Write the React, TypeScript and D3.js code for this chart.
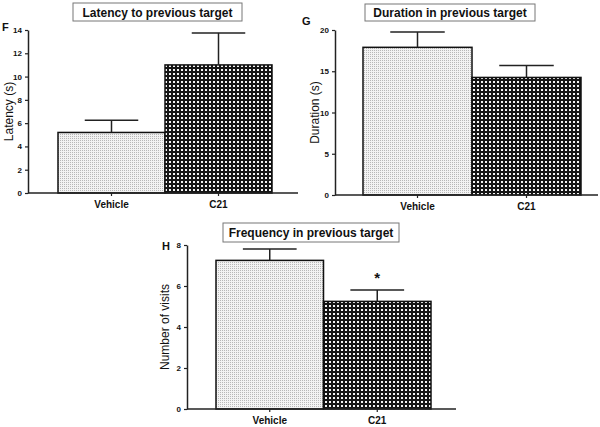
import React, { useRef, useEffect } from 'react';
import * as d3 from 'd3';

const groups = ['Vehicle', 'C21'];

const latencyMean = [5.2, 11.0];
const latencySem = [1.05, 2.75];
const latencyTicks = [0, 2, 4, 6, 8, 10, 12, 14];

const durationMean = [17.9, 14.25];
const durationSem = [1.85, 1.45];
const durationTicks = [0, 5, 10, 15, 20];

const visitsMean = [7.25, 5.25];
const visitsSem = [0.55, 0.55];
const visitsTicks = [0, 2, 4, 6, 8];

type PanelCfg = {
  letter: string;
  title: string;
  yLabel: string;
  means: number[];
  sems: number[];
  ticks: number[];
  axisX: number;
  axisEnd: number;
  barX: [number, number];
  yRange: [number, number];
  titleBox: [number, number, number, number];
  letterPos: [number, number];
  yLabelX: number;
  star?: boolean;
};

const panels: PanelCfg[] = [
  {
    letter: 'F', title: 'Latency to previous target', yLabel: 'Latency (s)',
    means: latencyMean, sems: latencySem, ticks: latencyTicks,
    axisX: 28, axisEnd: 298, barX: [58, 272], yRange: [193, 30],
    titleBox: [73, 3, 169, 18], letterPos: [2, 31], yLabelX: 13,
  },
  {
    letter: 'G', title: 'Duration in previous target', yLabel: 'Duration (s)',
    means: durationMean, sems: durationSem, ticks: durationTicks,
    axisX: 335, axisEnd: 598, barX: [363, 581], yRange: [195, 30],
    titleBox: [365, 4, 170, 17], letterPos: [302, 25], yLabelX: 319,
  },
  {
    letter: 'H', title: 'Frequency in previous target', yLabel: 'Number of visits',
    means: visitsMean, sems: visitsSem, ticks: visitsTicks,
    axisX: 187, axisEnd: 456, barX: [216, 431], yRange: [409, 245],
    titleBox: [223, 223, 176, 19], letterPos: [162, 250], yLabelX: 169, star: true,
  },
];

const App = () => {
  const svgRef = useRef<SVGSVGElement>(null);

  useEffect(() => {
    const svg = d3.select(svgRef.current);
    svg.selectAll('*').remove();
    svg.attr('width', 600).attr('height', 427);

    const font = 'Liberation Sans, Arial, sans-serif';

    // patterns
    const defs = svg.append('defs');
    const light = defs.append('pattern').attr('id', 'pat-light')
      .attr('patternUnits', 'userSpaceOnUse').attr('width', 2).attr('height', 2);
    light.append('rect').attr('width', 2).attr('height', 2).attr('fill', '#f3f3f3');
    light.append('rect').attr('width', 1).attr('height', 1).attr('fill', '#b8b8b8');

    const dark = defs.append('pattern').attr('id', 'pat-dark')
      .attr('patternUnits', 'userSpaceOnUse').attr('width', 4).attr('height', 4);
    dark.append('rect').attr('width', 4).attr('height', 4).attr('fill', '#151515');
    dark.append('rect').attr('x', 1).attr('y', 1).attr('width', 2).attr('height', 2).attr('fill', '#f4f4f4');

    const fills = ['url(#pat-light)', 'url(#pat-dark)'];

    panels.forEach(p => {
      const g = svg.append('g');
      const x = d3.scaleBand().domain(groups).range(p.barX).padding(0);
      const y = d3.scaleLinear()
        .domain([0, p.ticks[p.ticks.length - 1]])
        .range(p.yRange);

      // title box
      const [tx, ty, tw, th] = p.titleBox;
      g.append('rect').attr('x', tx).attr('y', ty).attr('width', tw).attr('height', th)
        .attr('fill', '#fff').attr('stroke', '#777').attr('stroke-width', 1);
      g.append('text').attr('x', tx + tw / 2).attr('y', ty + th / 2 + 4.5)
        .attr('text-anchor', 'middle').attr('font-family', font)
        .attr('font-weight', 'bold').attr('font-size', 12).attr('fill', '#111')
        .text(p.title);

      // panel letter
      g.append('text').attr('x', p.letterPos[0]).attr('y', p.letterPos[1])
        .attr('font-family', font).attr('font-weight', 'bold').attr('font-size', 11)
        .attr('fill', '#111').text(p.letter);

      // bars
      g.selectAll('.bar').data(groups).enter().append('rect')
        .attr('x', d => x(d)!)
        .attr('y', (d, i) => y(p.means[i]))
        .attr('width', x.bandwidth())
        .attr('height', (d, i) => y(0) - y(p.means[i]))
        .attr('fill', (d, i) => fills[i])
        .attr('stroke', '#111').attr('stroke-width', 1.5);

      // error bars
      const capHalf = x.bandwidth() * 0.25;
      groups.forEach((d, i) => {
        const cx = x(d)! + x.bandwidth() / 2;
        g.append('line').attr('x1', cx).attr('x2', cx)
          .attr('y1', y(p.means[i])).attr('y2', y(p.means[i] + p.sems[i]))
          .attr('stroke', '#222').attr('stroke-width', 1.5);
        g.append('line').attr('x1', cx - capHalf).attr('x2', cx + capHalf)
          .attr('y1', y(p.means[i] + p.sems[i])).attr('y2', y(p.means[i] + p.sems[i]))
          .attr('stroke', '#222').attr('stroke-width', 1.5);
      });

      if (p.star) {
        const cx = x('C21')! + x.bandwidth() / 2;
        g.append('text').attr('x', cx).attr('y', y(p.means[1] + p.sems[1]) - 7)
          .attr('text-anchor', 'middle').attr('font-family', font)
          .attr('font-weight', 'bold').attr('font-size', 15).attr('fill', '#111').text('*');
      }

      // y axis
      const yAxis = g.append('g').attr('transform', `translate(${p.axisX},0)`)
        .call(d3.axisLeft(y).tickValues(p.ticks).tickSize(3).tickSizeOuter(0));
      yAxis.select('.domain').attr('stroke', '#222').attr('stroke-width', 1.5);
      yAxis.selectAll('line').attr('stroke', '#222').attr('stroke-width', 1.2);
      yAxis.selectAll('text').attr('font-family', font).attr('font-weight', 'bold')
        .attr('font-size', 8).attr('fill', '#111');

      // x axis
      g.append('line').attr('x1', p.axisX).attr('x2', p.axisEnd)
        .attr('y1', y(0)).attr('y2', y(0))
        .attr('stroke', '#222').attr('stroke-width', 1.5);
      groups.forEach(d => {
        const cx = x(d)! + x.bandwidth() / 2;
        g.append('line').attr('x1', cx).attr('x2', cx)
          .attr('y1', y(0)).attr('y2', y(0) + 3)
          .attr('stroke', '#222').attr('stroke-width', 1.2);
        g.append('text').attr('x', cx).attr('y', y(0) + 15)
          .attr('text-anchor', 'middle').attr('font-family', font)
          .attr('font-weight', 'bold').attr('font-size', 10).attr('fill', '#111').text(d);
      });

      // y label
      const midY = (p.yRange[0] + p.yRange[1]) / 2;
      g.append('text')
        .attr('transform', `translate(${p.yLabelX},${midY}) rotate(-90)`)
        .attr('text-anchor', 'middle').attr('font-family', font)
        .attr('font-size', 12).attr('fill', '#111').text(p.yLabel);
    });
  }, []);

  return <svg ref={svgRef} style={{ position: 'absolute', left: 0, top: 0 }}></svg>;
};

export default App;
